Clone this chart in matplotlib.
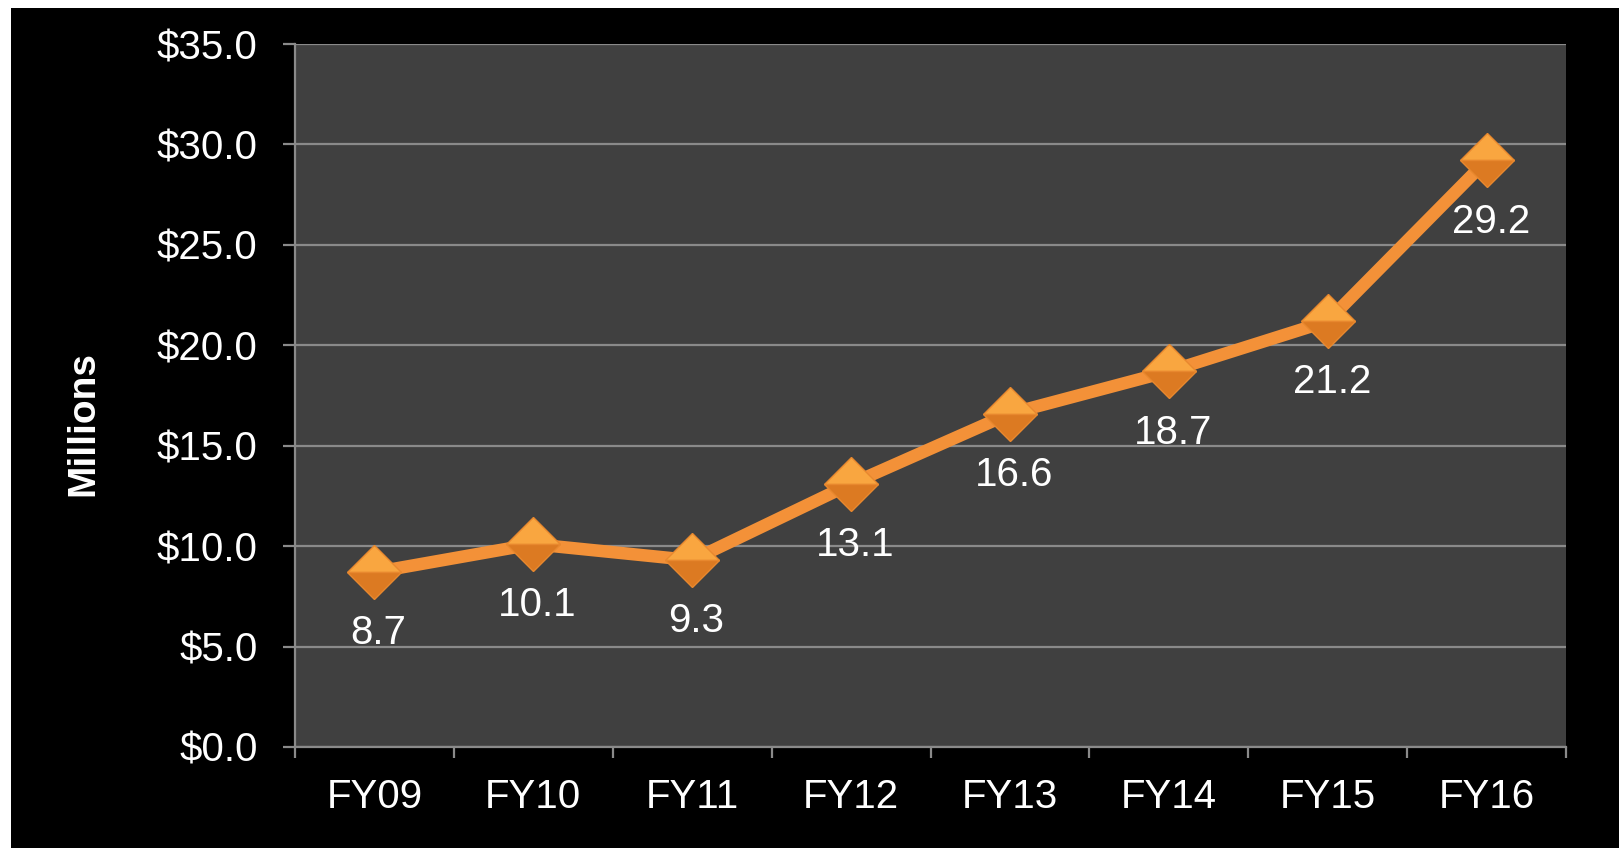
import matplotlib
matplotlib.use("Agg")
import matplotlib.pyplot as plt
from matplotlib.patches import Rectangle

# data
years = ["FY09", "FY10", "FY11", "FY12", "FY13", "FY14", "FY15", "FY16"]
revenue = [8.7, 10.1, 9.3, 13.1, 16.6, 18.7, 21.2, 29.2]
y_ticks = [0, 5, 10, 15, 20, 25, 30, 35]

plt.rcParams['font.family'] = ['Liberation Sans', 'DejaVu Sans']

orange = "#F39138"
grid_col = "#8A8A8A"

fig = plt.figure(figsize=(16.19, 8.48), dpi=100)
fig.patch.set_facecolor("white")
# black slide background, thin white strip top and left
fig.patches.append(Rectangle((11 / 1619, 0), 1, 1 - 8 / 848, transform=fig.transFigure,
                             facecolor="black", edgecolor="none", zorder=-5))

ax = fig.add_axes([295 / 1619, 101 / 848, 1271 / 1619, 703 / 848])
ax.set_facecolor("#404040")

x = list(range(len(years)))
ax.plot(x, revenue, color=orange, lw=9, solid_capstyle="round", zorder=3,
        marker="D", markersize=28, fillstyle="top",
        markerfacecolor="#F9A640", markerfacecoloralt="#DC7A22",
        markeredgecolor="#E8882E", markeredgewidth=1)

for xi, v in zip(x, revenue):
    ax.annotate(f"{v:.1f}", (xi, v), xytext=(3, -44), textcoords="offset points",
                ha="center", va="center", color="white", fontsize=29, zorder=4)

ax.set_xlim(-0.5, len(years) - 0.5)
ax.set_ylim(0, 35)
ax.set_yticks(y_ticks)
ax.set_yticklabels([f"${t:.1f}" for t in y_ticks])
ax.set_xticks(x)
ax.set_xticklabels(years)
ax.set_xticks([i - 0.5 for i in range(len(years) + 1)], minor=True)

ax.grid(axis="y", color=grid_col, lw=1.6, zorder=1)
ax.set_axisbelow(True)

ax.tick_params(axis="y", length=9, width=1.6, color=grid_col, labelcolor="white",
               labelsize=29, pad=18)
ax.tick_params(axis="x", which="major", length=0, labelcolor="white", labelsize=29, pad=22)
ax.tick_params(axis="x", which="minor", length=8, width=1.6, color=grid_col)

for side in ["top", "right"]:
    ax.spines[side].set_visible(False)
for side in ["left", "bottom"]:
    ax.spines[side].set_color(grid_col)
    ax.spines[side].set_linewidth(1.6)

ax.set_ylabel("Millions", color="white", fontsize=28, fontweight="bold")
ax.yaxis.set_label_coords(-0.152, 0.46)

fig.savefig("out.png", dpi=100, facecolor=fig.get_facecolor())
